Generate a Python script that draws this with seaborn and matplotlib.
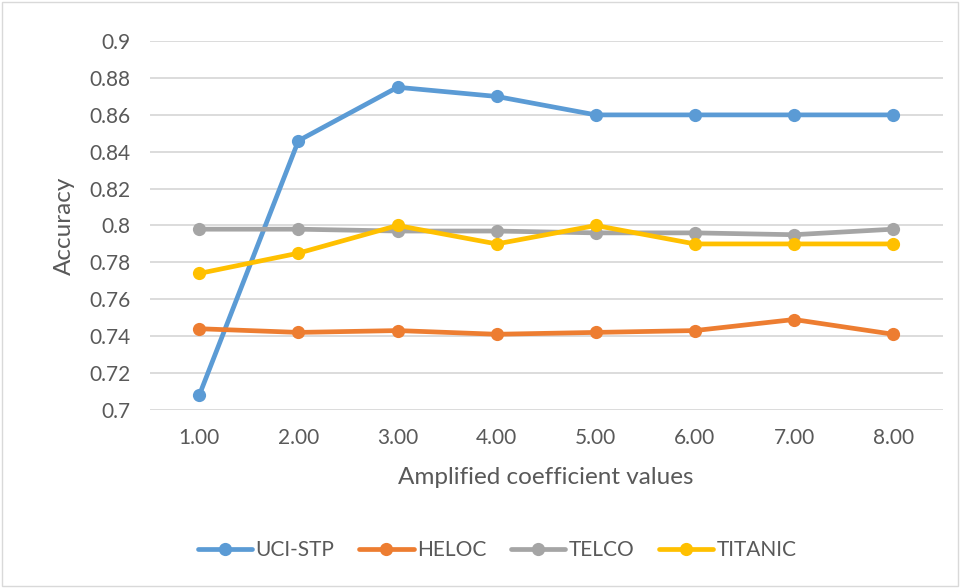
import pandas as pd
import matplotlib
matplotlib.use("Agg")
import matplotlib.pyplot as plt
import seaborn as sns
from matplotlib.ticker import FuncFormatter, FixedLocator
from matplotlib.patches import Rectangle

# Data

coef = [1.0, 2.0, 3.0, 4.0, 5.0, 6.0, 7.0, 8.0]
uci_stp = [0.708, 0.846, 0.875, 0.870, 0.860, 0.860, 0.860, 0.860]
heloc = [0.744, 0.742, 0.743, 0.741, 0.742, 0.743, 0.749, 0.741]
telco = [0.798, 0.798, 0.797, 0.797, 0.796, 0.796, 0.795, 0.798]
titanic = [0.774, 0.785, 0.800, 0.790, 0.800, 0.790, 0.790, 0.790]

series_names = ["UCI-STP", "HELOC", "TELCO", "TITANIC"]
colors = ["#5B9BD5", "#ED7D31", "#A5A5A5", "#FFC000"]
y_ticks = [0.7, 0.72, 0.74, 0.76, 0.78, 0.8, 0.82, 0.84, 0.86, 0.88, 0.9]

df = pd.DataFrame({
    "coef": coef * 4,
    "acc": uci_stp + heloc + telco + titanic,
    "dataset": [n for n in series_names for _ in coef]
})

sns.set_style("white")
plt.rcParams["font.family"] = ["Lato", "DejaVu Sans"]
text_color = "#595959"

fig = plt.figure(figsize=(9.6, 5.88), dpi=100)
ax = fig.add_axes([0.156, 0.303, 0.826, 0.627])

sns.lineplot(
    data=df,
    x="coef",
    y="acc",
    hue="dataset",
    hue_order=series_names,
    palette=colors,
    marker="o",
    markersize=9.5,
    markeredgewidth=0,
    linewidth=3.4,
    solid_capstyle="round",
    solid_joinstyle="round",
    ax=ax
)

ax.set_xlim(0.5, 8.5)
ax.set_ylim(0.7, 0.9)
ax.yaxis.set_major_locator(FixedLocator(y_ticks))
ax.yaxis.set_major_formatter(FuncFormatter(lambda v, p: f"{v:g}"))
ax.set_xticks(coef)
ax.set_xticklabels([f"{c:.2f}" for c in coef])
ax.grid(axis="y", color="#D9D9D9", linewidth=1.3)
ax.set_axisbelow(True)
for s in ax.spines.values():
    s.set_visible(False)
ax.tick_params(axis="both", length=0, labelsize=15, colors=text_color)
ax.tick_params(axis="x", pad=13)
ax.tick_params(axis="y", pad=14)
ax.set_xlabel("Amplified coefficient values", fontsize=17.5, color=text_color, labelpad=14)
ax.set_ylabel("Accuracy", fontsize=17.5, color=text_color, labelpad=10)

handles, labels = ax.get_legend_handles_labels()
ax.legend(
    handles, labels,
    loc="center",
    bbox_to_anchor=(0.518, 0.064),
    bbox_transform=fig.transFigure,
    ncol=4,
    frameon=False,
    fontsize=15,
    labelcolor=text_color,
    handlelength=2.6,
    handletextpad=0.15,
    columnspacing=1.2
)

fig.patches.append(Rectangle((0.002, 0.003), 0.996, 0.994, transform=fig.transFigure,
                             fill=False, edgecolor="#D9D9D9", linewidth=1))

plt.savefig("out.png", dpi=100)
plt.close()
